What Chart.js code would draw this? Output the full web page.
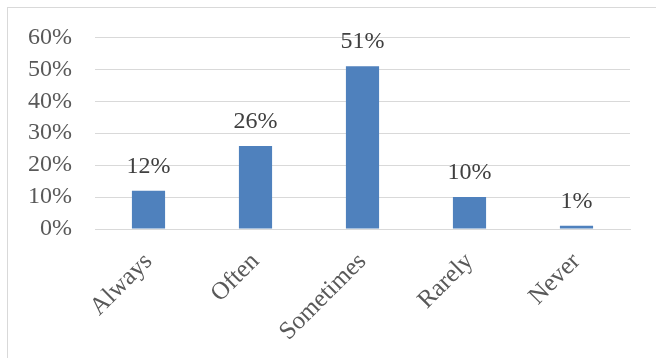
<!DOCTYPE html>
<html>
<head>
<meta charset="utf-8">
<script src="https://cdn.jsdelivr.net/npm/chart.js@4"></script>
<style>
  html, body { margin: 0; padding: 0; background: #fff; }
  #wrap { position: relative; width: 656px; height: 358px; overflow: hidden; }
  #frame { position: absolute; left: 7px; top: 7px; width: 700px; height: 400px; border: 1px solid #d9d9d9; }
  #grafico { position: absolute; left: 0; top: 0; }
</style>
</head>
<body>
<div id="wrap">
  <div id="frame"></div>
  <canvas id="grafico" width="656" height="358"></canvas>
</div>
<script>
const categorias = ["Always", "Often", "Sometimes", "Rarely", "Never"];
const porcentajes = [12, 26, 51, 10, 1];
const ticksY = [0, 10, 20, 30, 40, 50, 60];

const fuente = "'Liberation Serif', serif";

// valor encima de cada barra
const etiquetas = {
  id: "etiquetas",
  afterDatasetsDraw(chart) {
    const ctx = chart.ctx;
    const meta = chart.getDatasetMeta(0);
    ctx.save();
    ctx.fillStyle = "#404040";
    ctx.font = "24px " + fuente;
    ctx.textAlign = "center";
    ctx.textBaseline = "bottom";
    meta.data.forEach((bar, i) => {
      ctx.fillText(porcentajes[i] + "%", bar.x, bar.y - 12);
    });
    ctx.restore();
  }
};

new Chart(document.getElementById("grafico"), {
  type: "bar",
  data: {
    labels: categorias,
    datasets: [{
      data: porcentajes,
      backgroundColor: "#4f81bd",
      borderWidth: 0,
      categoryPercentage: 0.31,
      barPercentage: 1
    }]
  },
  options: {
    responsive: false,
    animation: false,
    plugins: {
      legend: { display: false },
      tooltip: { enabled: false }
    },
    layout: { padding: { top: 37, right: 26, left: 0, bottom: 0 } },
    scales: {
      x: {
        grid: { display: false, drawTicks: false },
        border: { color: "#d9d9d9", width: 1 },
        ticks: {
          color: "#595959",
          font: { family: fuente, size: 25 },
          minRotation: 45,
          maxRotation: 45,
          padding: 18
        },
        afterFit(scale) { scale.height = 129; }
      },
      y: {
        min: 0,
        max: 60,
        afterBuildTicks(scale) { scale.ticks = ticksY.map(v => ({ value: v })); },
        grid: { color: "#d9d9d9", lineWidth: 1, drawTicks: false },
        border: { display: false },
        ticks: {
          color: "#595959",
          font: { family: fuente, size: 24 },
          padding: 23,
          callback: v => v + "%"
        },
        afterFit(scale) { scale.width = 95; }
      }
    }
  },
  plugins: [etiquetas]
});
</script>
</body>
</html>
